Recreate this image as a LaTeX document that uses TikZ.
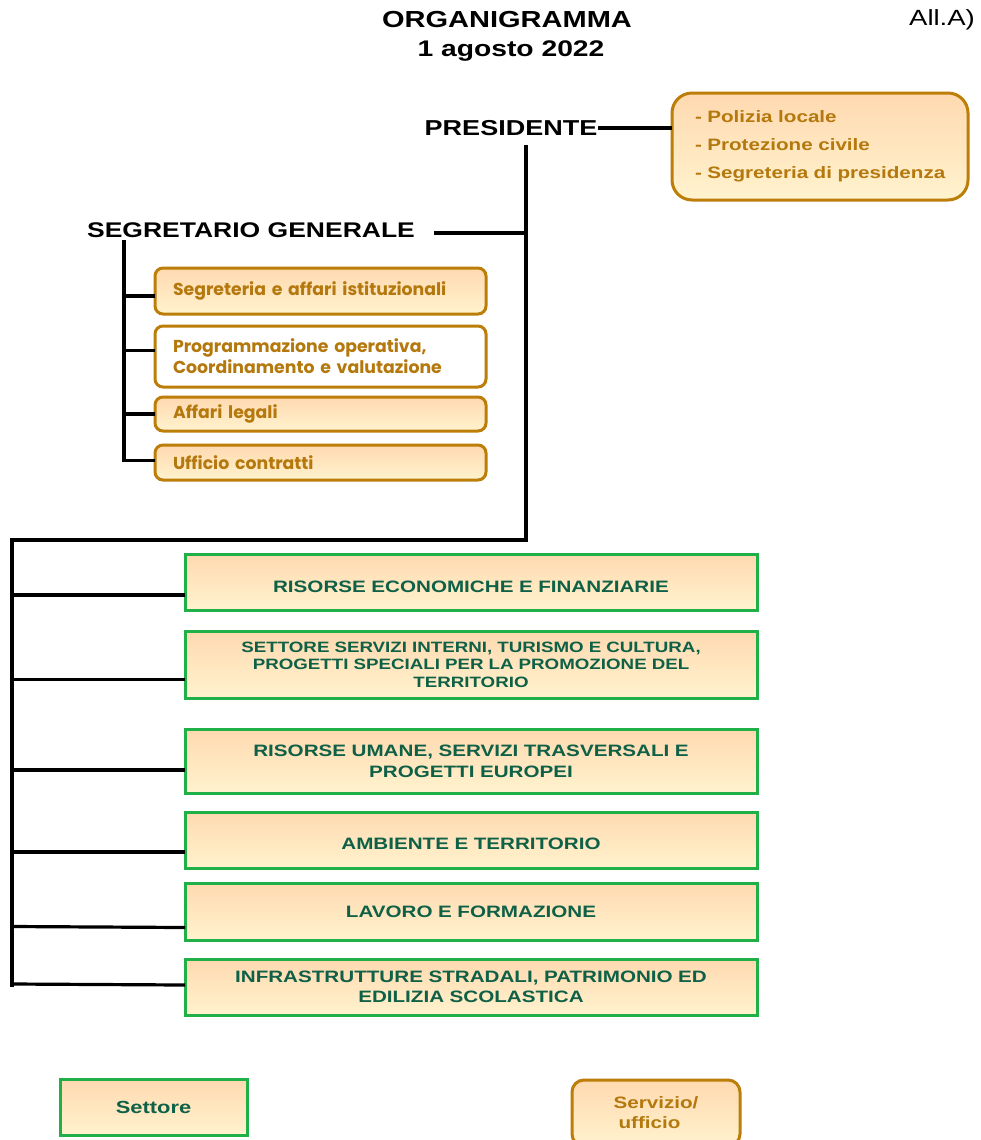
\documentclass[tikz,border=0pt]{standalone}
\usepackage{fontspec}
\setmainfont[FakeStretch=1.25]{Liberation Sans}
\newfontfamily\subfont{Poppins}
\usetikzlibrary{calc}
\definecolor{ocol}{RGB}{188,126,8}
\definecolor{otext}{RGB}{180,120,12}
\definecolor{gcol}{RGB}{32,176,72}
\definecolor{gtext}{RGB}{14,96,70}
\definecolor{peach}{RGB}{255,217,176}
\definecolor{cream}{RGB}{255,243,206}
\tikzset{
  head/.style={inner sep=2pt, font=\fontsize{21.6}{26}\selectfont\bfseries},
  conn/.style={line width=3.2pt, line cap=rect},
  gbox/.style={draw=gcol, line width=3pt, top color=peach, bottom color=cream,
    minimum width=572pt, text width=540pt, align=center, inner sep=0pt, text=gtext,
    font=\fontsize{16.5}{18}\selectfont\bfseries},
  obox/.style={draw=ocol, line width=3pt, rounded corners=8pt, top color=peach, bottom color=cream,
    minimum width=331pt, text width=295pt, align=left, inner xsep=18pt, inner ysep=0pt, text=otext,
    font=\subfont\fontsize{17.3}{21}\selectfont\bfseries},
}
\begin{document}
\begin{tikzpicture}[x=1pt,y=-1pt]
\useasboundingbox (0,0) rectangle (980,1140);
% titles
\node[head, font=\fontsize{23.2}{26}\selectfont\bfseries] (t1) at (507,20) {ORGANIGRAMMA};
\node[head, font=\fontsize{22.6}{26}\selectfont\bfseries] (t2) at (511,51) {1 agosto 2022};
\node[inner sep=0pt, font=\fontsize{22}{26}\selectfont] (all) at (942,20) {All.A)};
% president
\node[head] (pres) at (511,128) {PRESIDENTE};
\node[draw=ocol, line width=3pt, rounded corners=20pt, top color=peach, bottom color=cream,
  minimum width=296pt, minimum height=107pt, text width=272pt, align=left, inner xsep=12pt, inner ysep=0pt,
  text=otext, font=\fontsize{16.5}{28}\selectfont\bfseries] (poli) at (820,146.5)
  {\hspace*{11pt}- Polizia locale\\\hspace*{11pt}- Protezione civile\\\hspace*{11pt}- Segreteria di presidenza\\[-1pt]};
\draw[conn] (pres.east) -- (pres.east -| poli.west);
% segretario
\node[head, font=\fontsize{21.2}{26}\selectfont\bfseries] (sg) at (251,230) {SEGRETARIO GENERALE};
\coordinate (ptop) at (526,147);
\coordinate (pj) at (526,540);
\coordinate (sgr) at (436,233);
\coordinate (l0) at (12,540);
\coordinate (lend) at (12,985);
\draw[conn] (sgr) -- (sgr -| ptop);
% sub boxes
\node[obox, minimum height=46pt] (s1) at (320.5,291) {Segreteria e affari istituzionali};
\node[obox, minimum height=61pt, top color=white, bottom color=white, inner xsep=16pt] (s2) at (320.5,356.5) {Programmazione operativa,\\Coordinamento e valutazione};
\node[obox, minimum height=34pt] (s3) at (320.5,414) {Affari legali};
\node[obox, minimum height=35pt] (s4) at (320.5,462.5) {Ufficio contratti};
\coordinate (sv0) at (124,242);
\coordinate (b1) at ([yshift=-5pt]s1.west);
\coordinate (b2) at ([yshift=6pt]s2.west);
\coordinate (b4) at ([yshift=2pt]s4.west);
\draw[conn] (sv0) -- (sv0 |- b4) -- (b4);
\draw[conn] (sv0 |- b1) -- (b1);
\draw[conn] (sv0 |- b2) -- (b2);
\draw[conn] (sv0 |- s3.west) -- (s3.west);
% main trunk
\draw[conn] (ptop) -- (pj) -- (l0) -- (lend);
% settori
\node[gbox, minimum height=56pt] (g1) at (471,582) {\rule{0pt}{21pt}RISORSE ECONOMICHE E FINANZIARIE};
\node[gbox, minimum height=67pt, font=\fontsize{15}{17.5}\selectfont\bfseries] (g2) at (471,664.5) {SETTORE SERVIZI INTERNI, TURISMO E CULTURA,\\PROGETTI SPECIALI PER LA PROMOZIONE DEL\\TERRITORIO};
\node[gbox, minimum height=64pt, font=\fontsize{16.5}{21}\selectfont\bfseries] (g3) at (471,761) {RISORSE UMANE, SERVIZI TRASVERSALI E\\PROGETTI EUROPEI};
\node[gbox, minimum height=56pt] (g4) at (471,840) {\rule{0pt}{19pt}AMBIENTE E TERRITORIO};
\node[gbox, minimum height=57pt] (g5) at (471,911.5) {LAVORO E FORMAZIONE};
\node[gbox, minimum height=56pt, font=\fontsize{16.5}{20}\selectfont\bfseries] (g6) at (471,987) {INFRASTRUTTURE STRADALI, PATRIMONIO ED\\EDILIZIA SCOLASTICA};
\coordinate (c1) at ([yshift=-13pt]g1.west);
\coordinate (c2) at ([yshift=-15pt]g2.west);
\coordinate (c3) at ([yshift=-9pt]g3.west);
\coordinate (c4) at ([yshift=-12pt]g4.west);
\coordinate (c5) at ([yshift=-16pt]g5.west);
\coordinate (c6) at ([yshift=2pt]g6.west);
\draw[conn] (c1 -| l0) -- (c1);
\draw[conn] (c2 -| l0) -- (c2);
\draw[conn] (c3 -| l0) -- (c3);
\draw[conn] (c4 -| l0) -- (c4);
\draw[conn] ([yshift=1pt]c5 -| l0) -- (c5);
\draw[conn] ([yshift=1pt]c6 -| l0) -- (c6);
% legend
\node[gbox, minimum width=187pt, minimum height=56pt, text width=170pt, font=\fontsize{17.5}{20}\selectfont\bfseries] (leg1) at (153.5,1107) {Settore};
\node[draw=ocol, line width=3pt, rounded corners=12pt, top color=peach, bottom color=cream,
  minimum width=168pt, minimum height=66pt, inner sep=0pt, align=left, text=otext,
  font=\fontsize{16.5}{20}\selectfont\bfseries] (leg2) at (656,1113) {Servizio/\\\hspace*{5pt}ufficio};
\end{tikzpicture}
\end{document}
